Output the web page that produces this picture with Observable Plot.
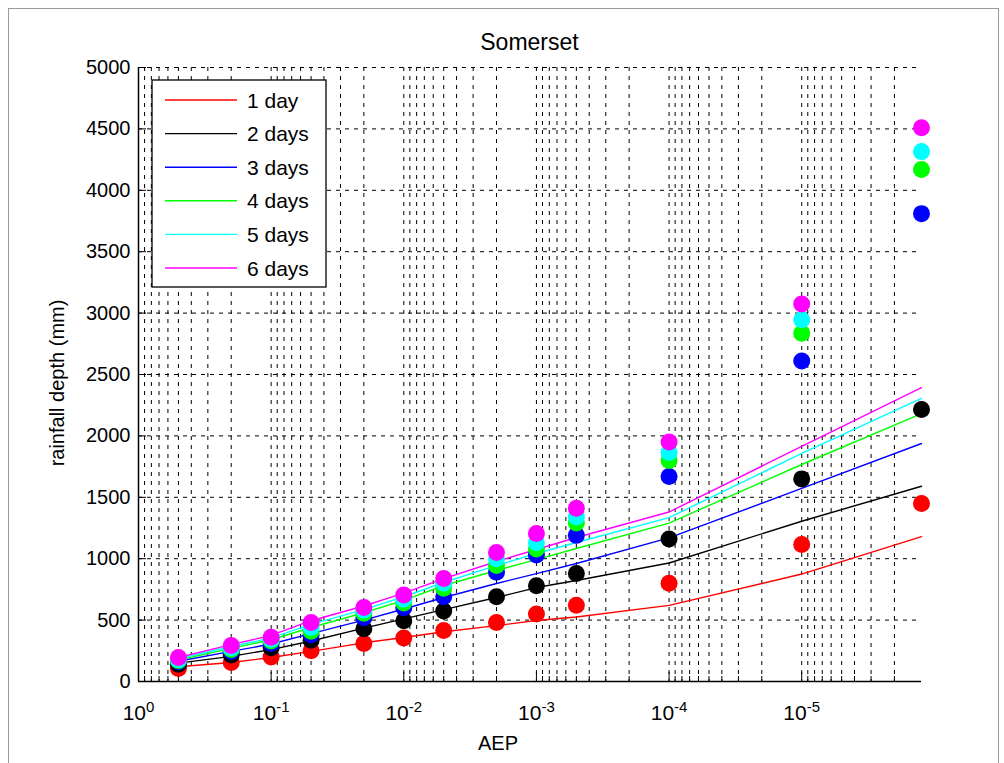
<!DOCTYPE html>
<html>
<head>
<meta charset="utf-8">
<script src="https://cdn.jsdelivr.net/npm/d3@7"></script>
<script src="https://cdn.jsdelivr.net/npm/@observablehq/plot@0.6"></script>
<style>
  html, body { margin: 0; padding: 0; background: #ffffff; }
  #wrap { position: relative; width: 1004px; height: 763px; overflow: hidden; }
  #border { position: absolute; left: 8px; top: 8px; width: 991px; height: 800px; border: 1px solid #9a9a9a; box-sizing: border-box; }
  #chart { position: absolute; left: 0; top: 0; }
</style>
</head>
<body>
<div id="wrap"><div id="border"></div><div id="chart"></div></div>
<script>
// ---- data ----
const aep = [0.5, 0.2, 0.1, 0.05, 0.02, 0.01, 0.005, 0.002, 0.001, 0.0005, 1e-4, 1e-5, 1.25e-6];
const seriesNames = ["1 day", "2 days", "3 days", "4 days", "5 days", "6 days"];
const seriesColors = ["#ff0000", "#000000", "#0000ff", "#00ff00", "#00ffff", "#ff00ff"];

// observed points (dots)
const dots1 = [105, 155, 200, 250, 310, 355, 415, 480, 550, 620, 800, 1115, 1450];
const dots2 = [140, 215, 275, 335, 430, 495, 575, 690, 780, 880, 1160, 1650, 2215];
const dots3 = [160, 245, 310, 380, 520, 600, 690, 890, 1030, 1190, 1670, 2610, 3810];
const dots4 = [170, 260, 330, 410, 555, 640, 760, 945, 1080, 1290, 1800, 2835, 4170];
const dots5 = [180, 275, 345, 440, 580, 670, 800, 1000, 1130, 1340, 1865, 2945, 4315];
const dots6 = [195, 293, 360, 480, 603, 705, 838, 1050, 1205, 1410, 1950, 3075, 4510];

// fitted curves (lines)
const line1 = [120, 155, 195, 245, 315, 358, 405, 455, 497, 525, 620, 875, 1180];
const line2 = [150, 205, 260, 330, 435, 510, 585, 684, 765, 822, 965, 1305, 1590];
const line3 = [165, 245, 305, 390, 500, 590, 684, 798, 879, 961, 1170, 1572, 1938];
const line4 = [175, 270, 340, 440, 560, 660, 782, 904, 993, 1083, 1290, 1767, 2182];
const line5 = [185, 285, 355, 465, 585, 690, 806, 945, 1042, 1132, 1335, 1857, 2305];
const line6 = [195, 300, 375, 495, 615, 720, 838, 977, 1075, 1173, 1380, 1914, 2394];

// axes
const xMajor = [1, 1e-1, 1e-2, 1e-3, 1e-4, 1e-5];
const xMajorExp = ["0", "-1", "-2", "-3", "-4", "-5"];
const yTicks = [0, 500, 1000, 1500, 2000, 2500, 3000, 3500, 4000, 4500, 5000];
const xDomain = [1, 1.25e-6];
const yDomain = [0, 5000];

const titleText = "Somerset";
const xLabel = "AEP";
const yLabel = "rainfall depth (mm)";

// ---- build ----
const dotsAll = [dots1, dots2, dots3, dots4, dots5, dots6];
const linesAll = [line1, line2, line3, line4, line5, line6];

const xMinor = [];
for (const m of xMajor) for (let k = 2; k <= 9; k++) {
  const v = m * k / 10;
  if (v >= xDomain[1] && v < 1) xMinor.push(v);
}
const xGrid = xMajor.concat(xMinor);

const W = 1004, H = 763;
const mL = 138, mR = 83, mT = 67, mB = 82;
const plotW = W - mL - mR, plotH = H - mT - mB;
const FONT = "'Liberation Sans', Arial, sans-serif";

const marks = [
  Plot.gridX(xGrid, {stroke: "#000", strokeOpacity: 1, strokeDasharray: "4,5", strokeWidth: 1}),
  Plot.gridY(yTicks, {stroke: "#000", strokeOpacity: 1, strokeDasharray: "4,5", strokeWidth: 1})
];
linesAll.forEach((vals, i) => {
  marks.push(Plot.line(aep.map((a, j) => ({a, v: vals[j]})), {x: "a", y: "v", stroke: seriesColors[i], strokeWidth: 1.4}));
});
dotsAll.forEach((vals, i) => {
  marks.push(Plot.dot(aep.map((a, j) => ({a, v: vals[j]})), {x: "a", y: "v", r: 8.5, fill: seriesColors[i], stroke: "none"}));
});
marks.push(
  Plot.ruleX([xDomain[0]], {stroke: "#000", strokeWidth: 1.5}),
  Plot.ruleY([0], {stroke: "#000", strokeWidth: 1.5}),
  Plot.tickY(yTicks, {y: d => d, stroke: "#000", insetRight: plotW - 8}),
  Plot.tickX(xMajor, {x: d => d, stroke: "#000", insetTop: plotH - 9}),
  Plot.tickX(xMinor, {x: d => d, stroke: "#000", insetTop: plotH - 5}),
  Plot.axisY(yTicks, {tickSize: 0, tickPadding: 8, fontSize: 20, tickFormat: d3.format("d"), fill: "#000"}),
  Plot.axisX(xMajor, {tickSize: 0, tickPadding: 24, fontSize: 21, fill: "#000",
    tickFormat: (d) => "10^" + xMajorExp[xMajor.indexOf(d)]})
);

const plot = Plot.plot({
  width: W, height: H,
  marginLeft: mL, marginRight: mR, marginTop: mT, marginBottom: mB,
  style: {fontFamily: FONT, background: "transparent", color: "#000", overflow: "visible"},
  x: {type: "log", domain: xDomain, label: null},
  y: {domain: yDomain, label: null},
  marks
});

const svg = d3.select(plot);
// superscript exponents on x tick labels
svg.selectAll('g[aria-label="x-axis tick label"] text').each(function () {
  const t = d3.select(this);
  const s = t.text();
  const parts = s.split("^");
  t.text(null);
  t.append("tspan").text(parts[0]);
  t.append("tspan").attr("dy", "-0.55em").attr("font-size", "15px").text(parts[1]);
});

// title & axis labels
svg.append("text").attr("x", mL + plotW / 2).attr("y", 50).attr("text-anchor", "middle")
  .attr("font-family", FONT).attr("font-size", 23).attr("fill", "#000").text(titleText);
svg.append("text").attr("x", 498).attr("y", 750).attr("text-anchor", "middle")
  .attr("font-family", FONT).attr("font-size", 20).attr("fill", "#000").text(xLabel);
svg.append("text").attr("transform", "translate(64,383) rotate(-90)").attr("text-anchor", "middle")
  .attr("font-family", FONT).attr("font-size", 20).attr("fill", "#000").text(yLabel);

// legend
const lg = svg.append("g").attr("aria-label", "legend");
lg.append("rect").attr("x", 152).attr("y", 80).attr("width", 174).attr("height", 207)
  .attr("fill", "#fff").attr("stroke", "#000").attr("stroke-width", 1.3);
seriesNames.forEach((name, i) => {
  const yy = 100 + i * 33.6;
  lg.append("line").attr("x1", 165).attr("x2", 237).attr("y1", yy).attr("y2", yy)
    .attr("stroke", seriesColors[i]).attr("stroke-width", 1.4);
  lg.append("text").attr("x", 247).attr("y", yy + 7.5).attr("text-anchor", "start")
    .attr("font-family", FONT).attr("font-size", 21).attr("fill", "#000").text(name);
});

document.getElementById("chart").appendChild(plot);
</script>
</body>
</html>
